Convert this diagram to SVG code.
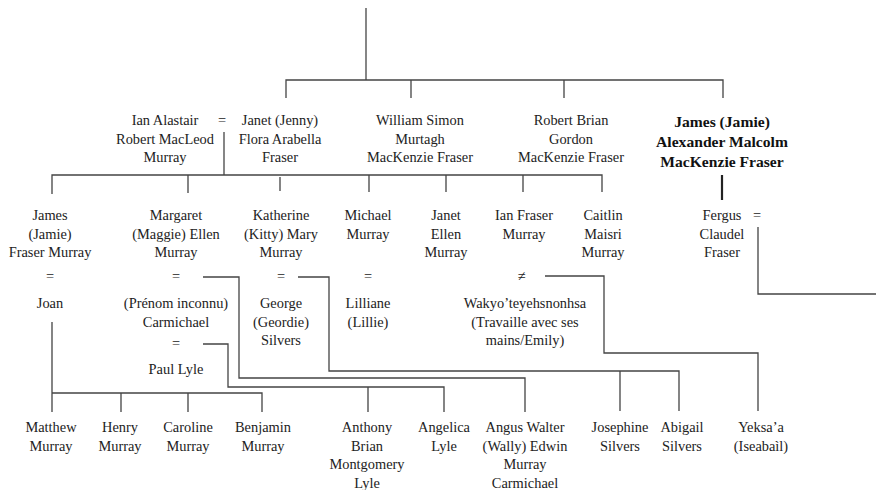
<svg xmlns="http://www.w3.org/2000/svg" width="876" height="490" viewBox="0 0 876 490">
<style>
text{font-family:"Liberation Serif","Times New Roman",serif;font-size:14.4px;fill:#222;text-anchor:middle}
.b{font-weight:bold;font-size:15.6px;fill:#111}
.c path{fill:none;stroke:#444;stroke-width:1.3}
.c .thick{stroke:#222;stroke-width:2.2}
</style>
<rect width="876" height="490" fill="#fff"/>
<g class="c" id="connectors">
<path d="M366,8V80"/>
<path d="M286,98V80H723V98"/>
<path d="M411,80V98M564,80V98"/>
<path d="M224,132V175"/>
<path d="M52,194V175H602V192"/>
<path d="M188,175V193M280,177V191M369,175V192M446,175V192M523,175V192"/>
<path class="thick" d="M722,175V200"/>
<path d="M758,227V294H876"/>
<path d="M203,277H239V378H525V412"/>
<path d="M298,277H329V371H679V411M620,371V411"/>
<path d="M203,344H228V387H444V412M368,387V412"/>
<path d="M52,322V412M52,393H262V412M121,393V412M188,393V412"/>
<path d="M545,276H604V353H758V411"/>
</g>
<g id="ian"><text x="165" y="125">Ian Alastair</text><text x="165" y="143.5">Robert MacLeod</text><text x="165" y="162">Murray</text></g>
<g id="m-ian-janet"><text x="222" y="125">=</text></g>
<g id="janet"><text x="280" y="125">Janet (Jenny)</text><text x="280" y="143.5">Flora Arabella</text><text x="280" y="162">Fraser</text></g>
<g id="william"><text x="420" y="125">William Simon</text><text x="420" y="143.5">Murtagh</text><text x="420" y="162">MacKenzie Fraser</text></g>
<g id="robert"><text x="571" y="125">Robert Brian</text><text x="571" y="143.5">Gordon</text><text x="571" y="162">MacKenzie Fraser</text></g>
<g id="jamie"><text class="b" x="722" y="127">James (Jamie)</text><text class="b" x="722" y="147">Alexander Malcolm</text><text class="b" x="722" y="167">MacKenzie Fraser</text></g>
<g id="fergus"><text x="722" y="220">Fergus</text><text x="722" y="238.5">Claudel</text><text x="722" y="257">Fraser</text></g>
<g id="m-fergus"><text x="757" y="220">=</text></g>
<g id="jamie-murray"><text x="50" y="220">James</text><text x="50" y="238.5">(Jamie)</text><text x="50" y="257">Fraser Murray</text></g>
<g id="margaret"><text x="176" y="220">Margaret</text><text x="176" y="238.5">(Maggie) Ellen</text><text x="176" y="257">Murray</text></g>
<g id="katherine"><text x="281" y="220">Katherine</text><text x="281" y="238.5">(Kitty) Mary</text><text x="281" y="257">Murray</text></g>
<g id="michael"><text x="368" y="220">Michael</text><text x="368" y="238.5">Murray</text></g>
<g id="janet-ellen"><text x="446" y="220">Janet</text><text x="446" y="238.5">Ellen</text><text x="446" y="257">Murray</text></g>
<g id="ian-fraser"><text x="524" y="220">Ian Fraser</text><text x="524" y="238.5">Murray</text></g>
<g id="caitlin"><text x="603" y="220">Caitlin</text><text x="603" y="238.5">Maisri</text><text x="603" y="257">Murray</text></g>
<g id="marks"><text x="50" y="281">=</text><text x="176" y="281">=</text><text x="281" y="281">=</text><text x="368" y="281">=</text><text x="522" y="281">≠</text><text x="176" y="348">=</text></g>
<g id="joan"><text x="50" y="308">Joan</text></g>
<g id="carmichael"><text x="176" y="308">(Prénom inconnu)</text><text x="176" y="326.5">Carmichael</text></g>
<g id="paul-lyle"><text x="176" y="374">Paul Lyle</text></g>
<g id="george"><text x="281" y="308">George</text><text x="281" y="326.5">(Geordie)</text><text x="281" y="345">Silvers</text></g>
<g id="lilliane"><text x="368" y="308">Lilliane</text><text x="368" y="326.5">(Lillie)</text></g>
<g id="wakyo"><text x="525" y="308">Wakyo’teyehsnonhsa</text><text x="525" y="326.5">(Travaille avec ses</text><text x="525" y="345">mains/Emily)</text></g>
<g id="matthew"><text x="51" y="432">Matthew</text><text x="51" y="450.5">Murray</text></g>
<g id="henry"><text x="120" y="432">Henry</text><text x="120" y="450.5">Murray</text></g>
<g id="caroline"><text x="188" y="432">Caroline</text><text x="188" y="450.5">Murray</text></g>
<g id="benjamin"><text x="263" y="432">Benjamin</text><text x="263" y="450.5">Murray</text></g>
<g id="anthony"><text x="367" y="432">Anthony</text><text x="367" y="450.5">Brian</text><text x="367" y="469">Montgomery</text><text x="367" y="487.5">Lyle</text></g>
<g id="angelica"><text x="444" y="432">Angelica</text><text x="444" y="450.5">Lyle</text></g>
<g id="angus"><text x="525" y="432">Angus Walter</text><text x="525" y="450.5">(Wally) Edwin</text><text x="525" y="469">Murray</text><text x="525" y="487.5">Carmichael</text></g>
<g id="josephine"><text x="620" y="432">Josephine</text><text x="620" y="450.5">Silvers</text></g>
<g id="abigail"><text x="682" y="432">Abigail</text><text x="682" y="450.5">Silvers</text></g>
<g id="yeksa"><text x="761" y="432">Yeksa’a</text><text x="761" y="450.5">(Iseabaìl)</text></g>
</svg>
